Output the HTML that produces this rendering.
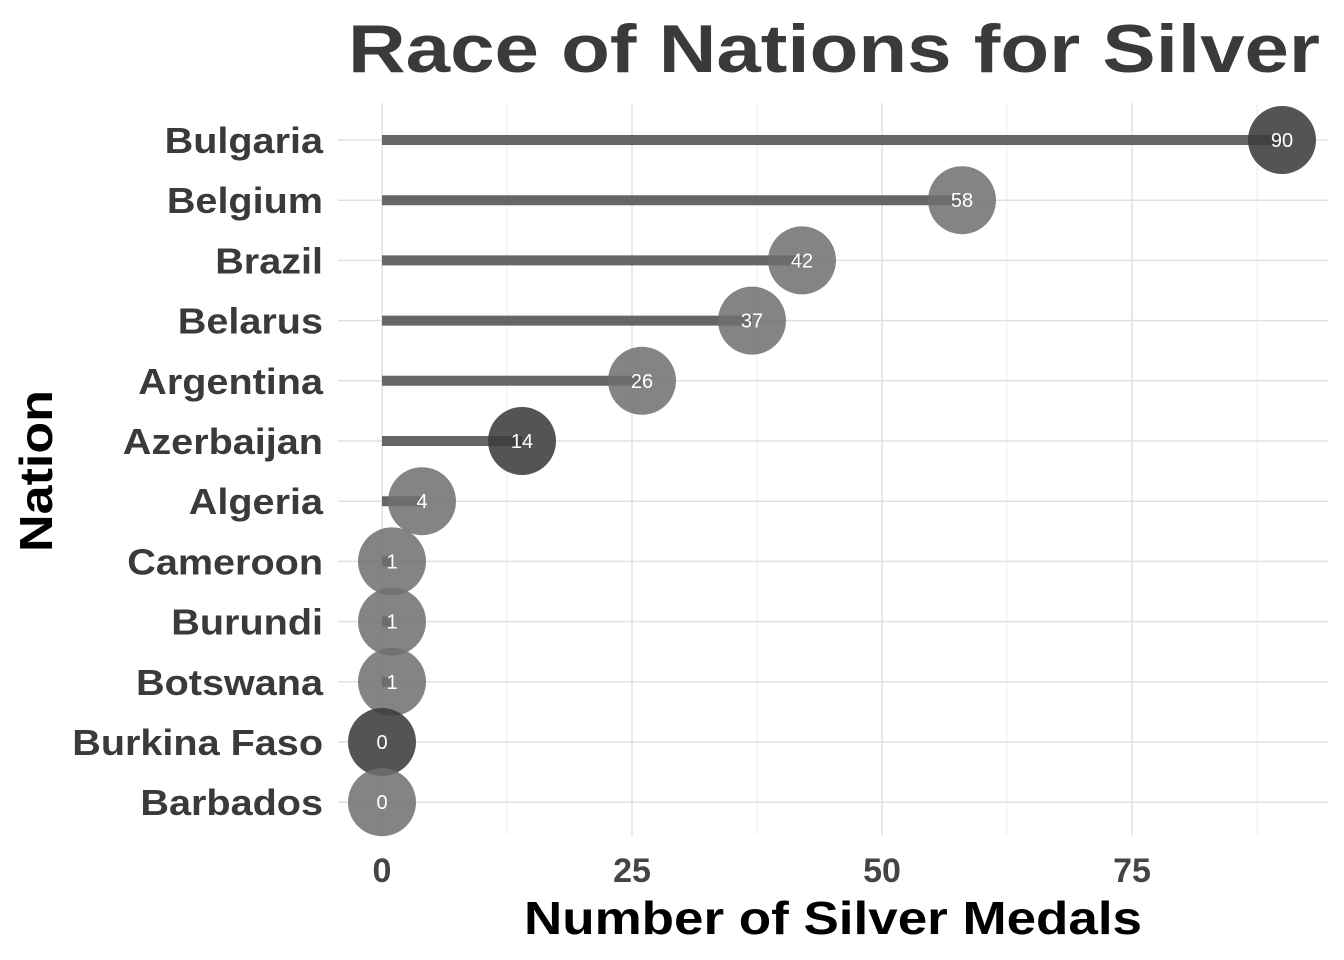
<!DOCTYPE html>
<html><head><meta charset="utf-8"><style>
html,body{margin:0;padding:0;background:#fff;}
svg{display:block;font-family:"Liberation Sans",Arial,sans-serif;}
</style></head><body>
<svg id="chart" width="1344" height="960">
<text x="1320" y="72" text-anchor="end" font-size="68" font-weight="bold" fill="#3a3a3a" textLength="972" lengthAdjust="spacingAndGlyphs">Race of Nations for Silver</text>
<g id="grid"></g><g id="marks"></g><g id="labels"></g>
<text x="833" y="934" text-anchor="middle" font-size="46" font-weight="bold" fill="#000" textLength="618" lengthAdjust="spacingAndGlyphs">Number of Silver Medals</text>
<text transform="translate(52,471) rotate(-90)" text-anchor="middle" font-size="46" font-weight="bold" fill="#000" textLength="162" lengthAdjust="spacingAndGlyphs">Nation</text>
</svg>
<script>
const nations=["Bulgaria","Belgium","Brazil","Belarus","Argentina","Azerbaijan","Algeria","Cameroon","Burundi","Botswana","Burkina Faso","Barbados"];
const medals=[90,58,42,37,26,14,4,1,1,1,0,0];
const dark=[true,false,false,false,false,true,false,false,false,false,true,false];
const xTicks=[0,25,50,75];
const NS="http://www.w3.org/2000/svg";
const x=v=>382+v*10;
const y=i=>140+i*60.2;
function mk(tag,attrs,parent){const e=document.createElementNS(NS,tag);for(const k in attrs)e.setAttribute(k,attrs[k]);document.getElementById(parent).appendChild(e);return e;}
for(let t=0;t<xTicks.length;t++){
  const v=xTicks[t];
  let g=mk('line',{x1:x(v),x2:x(v),y1:103,y2:835,stroke:'#e0e0e0','stroke-width':1.5},'grid');
  
  
  let m=mk('line',{x1:x(v+12.5),x2:x(v+12.5),y1:103,y2:835,stroke:'#ececec','stroke-width':1},'grid');
  
  
  let tl=mk('text',{x:x(v),y:882,'text-anchor':'middle','font-size':34,'font-weight':'bold',fill:'#444'},'labels');
  tl.textContent=v;
  
  
}
nations.forEach((n,i)=>{
  let g=mk('line',{x1:338,x2:1328,y1:y(i),y2:y(i),stroke:'#e0e0e0','stroke-width':1.5},'grid');
  
  
  let l=mk('text',{'text-anchor':'end','font-size':36,'font-weight':'bold',fill:'#3a3a3a',transform:'translate(323,'+(y(i)+13)+') scale(1.1,1)'},'labels');
  l.textContent=n;
  
  
  let s=mk('line',{x1:x(0),x2:x(medals[i]),y1:y(i),y2:y(i),stroke:'#666','stroke-width':10},'marks');
  
  
  let c=mk('circle',{cx:x(medals[i]),cy:y(i),r:34,fill:dark[i]?'#3c3c3c':'#6e6e6e','fill-opacity':dark[i]?0.88:0.85},'marks');
  
  
  let v=mk('text',{x:x(medals[i]),y:y(i)+7,'text-anchor':'middle','font-size':20,fill:'#fff'},'marks');
  v.textContent=medals[i];
  
  
});
</script>
</body></html>
